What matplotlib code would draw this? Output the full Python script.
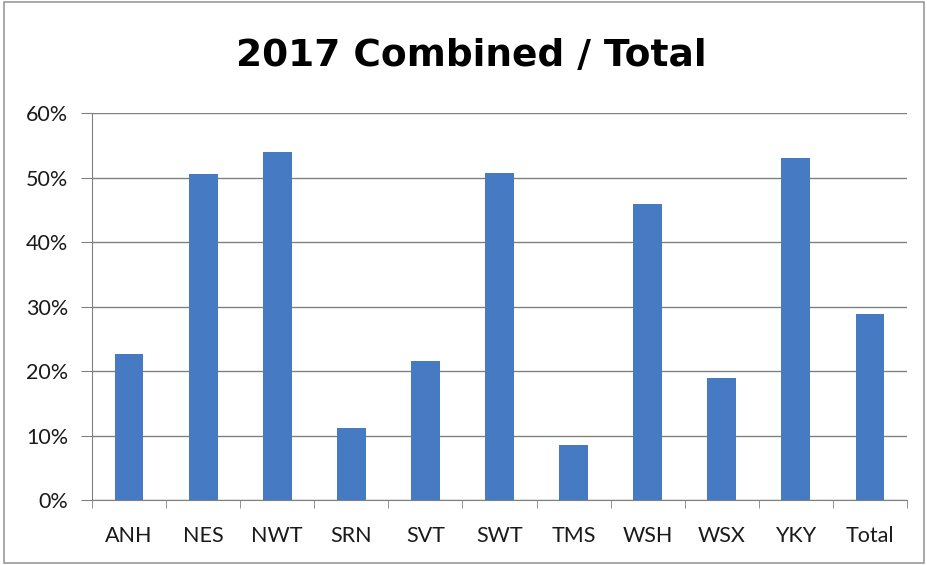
import matplotlib
matplotlib.use("Agg")
import matplotlib.pyplot as plt
from matplotlib.ticker import FuncFormatter, FixedLocator
from matplotlib.patches import Rectangle
import numpy as np

categories = ["ANH", "NES", "NWT", "SRN", "SVT", "SWT", "TMS", "WSH", "WSX", "YKY", "Total"]
values = [22.6, 50.6, 54.0, 11.2, 21.6, 50.7, 8.5, 45.9, 18.9, 53.0, 28.8]
yticks = [0, 10, 20, 30, 40, 50, 60]
title = "2017 Combined / Total"

fig = plt.figure(figsize=(9.28, 5.65), dpi=100)
fig.patch.set_facecolor("white")
fig.patches.append(Rectangle((0.004, 0.004), 0.992, 0.992, transform=fig.transFigure,
                             fill=False, edgecolor="#9a9a9a", linewidth=1.2))

ax = fig.add_axes([0.0991, 0.115, 0.8783, 0.685])
x = np.arange(len(categories))
ax.bar(x, values, width=0.39, color="#467BC4", zorder=3)

ax.set_xlim(-0.5, len(categories) - 0.5)
ax.set_ylim(0, 60)
ax.set_yticks(yticks)
ax.yaxis.set_major_formatter(FuncFormatter(lambda v, p: f"{int(v)}%"))
ax.yaxis.grid(True, color="#808080", linewidth=1.0, zorder=0)

ax.set_xticks(x)
ax.set_xticklabels(categories)
ax.xaxis.set_minor_locator(FixedLocator(np.arange(-0.5, len(categories), 1.0)))
ax.tick_params(axis="x", which="major", length=0, pad=19, labelsize=15.5)
ax.tick_params(axis="x", which="minor", length=6, color="#808080", direction="out")
ax.tick_params(axis="y", length=8, color="#808080", direction="out", pad=9, labelsize=15.5)
for lab in ax.get_xticklabels() + ax.get_yticklabels():
    lab.set_fontfamily("Lato")
    lab.set_color("#1a1a1a")

for s in ["top", "right"]:
    ax.spines[s].set_visible(False)
ax.spines["left"].set_color("#808080")
ax.spines["bottom"].set_color("#808080")

fig.text(0.508, 0.900, title, ha="center", va="center", fontsize=27,
         fontweight="bold", family="DejaVu Sans", color="black")

fig.savefig("out.png", dpi=100)
